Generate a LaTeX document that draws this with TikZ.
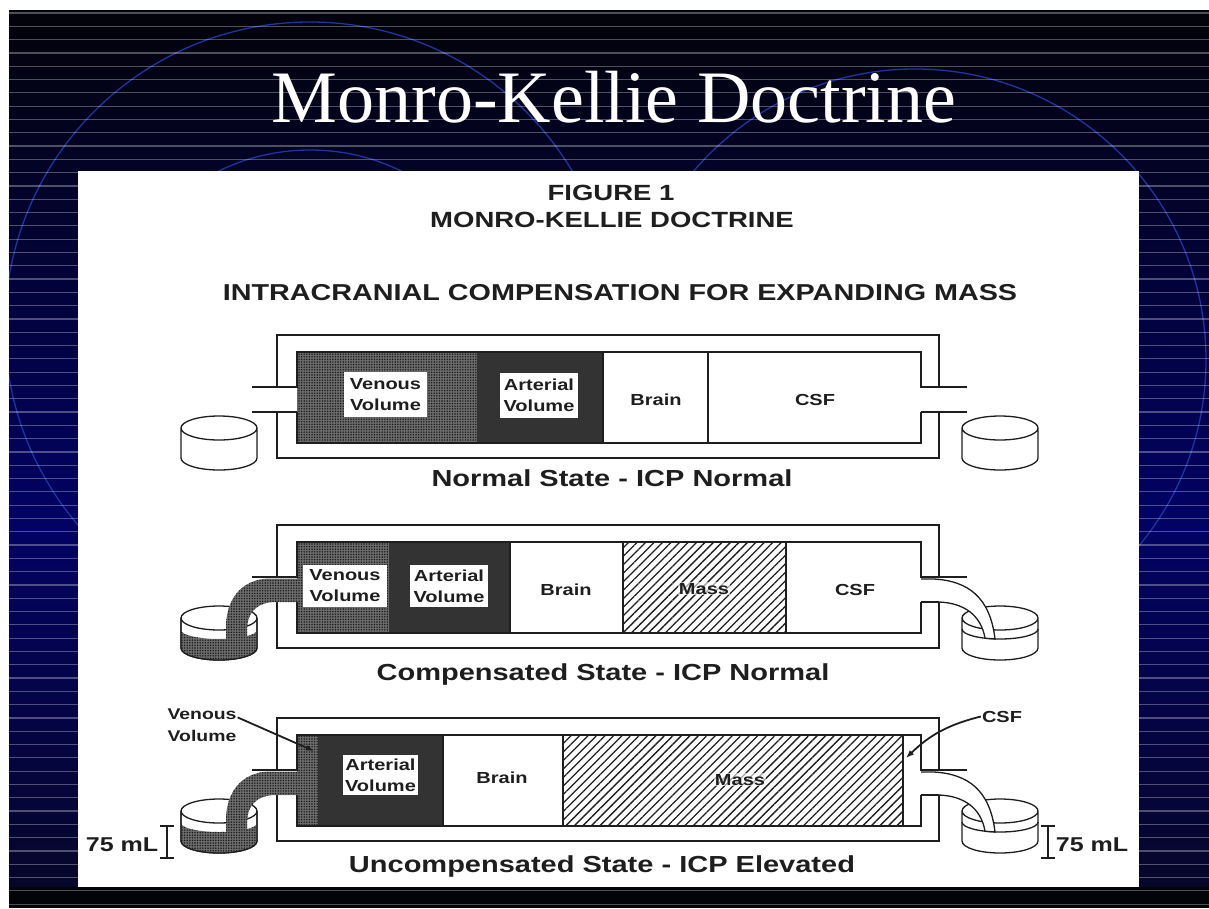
\documentclass[tikz,border=0pt]{standalone}
\usepackage{fontspec}
\setmainfont{Liberation Serif}
\newfontfamily\figfont[FakeStretch=1.25]{Liberation Sans}
\usetikzlibrary{patterns.meta,arrows.meta}

\definecolor{slidetop}{RGB}{3,3,10}
\definecolor{slidenavy}{RGB}{2,2,100}
\definecolor{slidedeep}{RGB}{6,6,42}
\definecolor{ringblue}{RGB}{30,52,160}
\definecolor{inkgray}{RGB}{30,30,30}

\begin{document}
\begin{tikzpicture}[x=1pt, y=-1pt,
  stripe/.style={white, opacity=0.3, line width=1.2pt},
  ring/.style={ringblue, line width=1.3pt},
  wall/.style={inkgray, line width=1.4pt},
  vessel/.style={inkgray, line width=1.3pt},
  venous/.style={pattern={Dots[distance=2.6pt, radius=0.8pt]}, pattern color=black!90,
    preaction={fill=black!58}},
  arterial/.style={fill=black!80},
  mass/.style={pattern={Lines[angle=45, distance=6pt, line width=1.3pt]}, pattern color=inkgray},
  lbl/.style={font=\figfont\bfseries\fontsize{16}{21}\selectfont, text=inkgray, inner sep=1pt},
  lblbox/.style={lbl, fill=white, align=center, inner sep=0pt},
  head/.style={font=\figfont\bfseries\fontsize{22}{26}\selectfont, text=inkgray, anchor=base},
  state/.style={font=\figfont\bfseries\fontsize{23.2}{28}\selectfont, text=inkgray, anchor=base},
  pointer/.style={inkgray, line width=1.8pt, -{Latex[length=8pt, width=6pt]}},
  bracket/.style={inkgray, line width=1.2pt},
]
\useasboundingbox (0,0) rectangle (1209,908);

% slide background
\fill[white] (0,0) rectangle (1209,908);
\fill[top color=slidetop, bottom color=slidenavy] (9,10) rectangle (1209,520);
\fill[top color=slidenavy, bottom color=slidedeep] (9,519) rectangle (1209,887);
\fill[slidetop] (9,887) rectangle (1209,908);
\begin{scope}
  \clip (9,10) rectangle (1209,908);
  \draw[ring] (310,327) circle[radius=305] (310,358) circle[radius=208] (310,415) circle[radius=130];
  \draw[ring] (915,360) circle[radius=291] (915,390) circle[radius=197] (915,415) circle[radius=130];
  \foreach \y in {13,26.3,...,905} \draw[stripe] (9,\y) -- (1209,\y);
\end{scope}
\node[anchor=base, text=white, font=\fontsize{74}{80}\selectfont] (title) at (614,122) {Monro-Kellie Doctrine};

% figure panel
\fill[white] (78,171) rectangle (1139,887);
\node[head] (fig) at (611,200) {FIGURE 1};
\node[head] (doc) at (612,227) {MONRO-KELLIE DOCTRINE};
\node[head, font=\figfont\bfseries\fontsize{23}{26}\selectfont] (intra) at (620,300) {INTRACRANIAL COMPENSATION FOR EXPANDING MASS};

% normal state
\begin{scope}[shift={(0,335)}]
  \fill[venous] (297,17) rectangle (477,108);
  \fill[arterial] (477,17) rectangle (603,108);
  \draw[wall] (603,17) -- (603,108) (708,17) -- (708,108);
  \draw[wall] (252,77) -- (297,77) (921,77) -- (967,77);
\end{scope}
% compensated state
\begin{scope}[shift={(0,525)}]
  \fill[venous] (297,17) rectangle (389,108);
  \fill[arterial] (389,17) rectangle (510,108);
  \fill[mass] (623,17) rectangle (786,108);
  \draw[wall] (510,17) -- (510,108) (623,17) -- (623,108) (786,17) -- (786,108);
\end{scope}
% uncompensated state
\begin{scope}[shift={(0,718)}]
  \fill[venous] (297,17) rectangle (318,108);
  \fill[arterial] (318,17) rectangle (443,108);
  \fill[mass] (563,17) rectangle (903,108);
  \draw[wall] (443,17) -- (443,108) (563,17) -- (563,108) (903,17) -- (903,108);
\end{scope}

% skull, chamber and reservoirs of each row
\foreach \T in {335,525,718}{
  \begin{scope}[shift={(0,\T)}]
    \draw[wall] (277,52) |- (939,0) -- (939,52) (939,77) |- (277,123) -- (277,77);
    \draw[wall] (252,52) -| (297,17) -| (921,52) -- (967,52);
    \draw[wall] (297,77) |- (921,108) -- (921,77);
    \foreach \cx in {219,1000}
      \filldraw[vessel, fill=white] (\cx-38,93) -- (\cx-38,123)
        arc[start angle=180, end angle=0, x radius=38, y radius=12] -- (\cx+38,93)
        arc[start angle=0, end angle=-180, x radius=38, y radius=12] -- cycle
        (\cx,93) ellipse[x radius=38, y radius=12];
  \end{scope}
}

% outflow of venous blood and CSF
\foreach \T in {525,718}{
  \begin{scope}[shift={(0,\T)}]
    \fill[venous] (181,105) -- (181,123) arc[start angle=180, end angle=0, x radius=38, y radius=12]
      -- (257,105) arc[start angle=0, end angle=180, x radius=38, y radius=9] -- cycle;
    \draw[vessel] (181,93) -- (181,123) arc[start angle=180, end angle=0, x radius=38, y radius=12] -- (257,93);
    \fill[venous] (297,53.5) -- (268,53.5) .. controls (241,55) and (227,74) .. (226,100) -- (226,120)
      -- (247,120) -- (247,103) .. controls (248,86) and (258,77) .. (276,77) -- (297,77) -- cycle;
    \draw[vessel] (962,104) arc[start angle=180, end angle=0, x radius=38, y radius=10];
    \filldraw[vessel, fill=white] (921,54) -- (934,54) .. controls (968,56) and (990,72) .. (995,113.9)
      -- (985,113.2) .. controls (981,90) and (964,78) .. (939,77);
    \draw[wall] (921,77) -- (939,77);
  \end{scope}
}

% labels
\node[lblbox, minimum width=83, minimum height=45] (ven1) at (385.5,394.5) {Venous\\Volume};
\node[lblbox, minimum width=78, minimum height=45] (art1) at (539,395) {Arterial\\Volume};
\node[lbl, anchor=base] (brain1) at (656,405) {Brain};
\node[lbl, anchor=base] (csf1) at (815,405) {CSF};
\node[state] (cap1) at (612,486) {Normal State - ICP Normal};

\node[lblbox, minimum width=84, minimum height=42] (ven2) at (345,586) {Venous\\Volume};
\node[lblbox, minimum width=78, minimum height=42] (art2) at (449,586) {Arterial\\Volume};
\node[lbl, anchor=base] (brain2) at (566,595) {Brain};
\node[lbl, anchor=base, fill=white, fill opacity=0.6, text opacity=1] (mass2) at (704,594) {Mass};
\node[lbl, anchor=base] (csf2) at (855,595) {CSF};
\node[state] (cap2) at (603,680) {Compensated State - ICP Normal};

\node[lblbox, minimum width=75, minimum height=40] (art3) at (380.5,775) {Arterial\\Volume};
\node[lbl, anchor=base] (brain3) at (502,783) {Brain};
\node[lbl, anchor=base, fill=white, fill opacity=0.6, text opacity=1] (mass3) at (740,785) {Mass};
\node[state] (cap3) at (602,872) {Uncompensated State - ICP Elevated};

% callouts
\node[lbl, align=center, font=\figfont\bfseries\fontsize{15.5}{22}\selectfont] (vcall) at (202,725) {Venous\\Volume};
\coordinate (vtip) at (314,751);
\draw[pointer] (vcall.12) -- (vtip);
\node[lbl, anchor=base] (ccall) at (1002,722) {CSF};
\coordinate (ctip) at (906,758);
\draw[pointer] (ccall.west) to[bend right=15] (ctip);

\node[lbl, anchor=base, font=\figfont\bfseries\fontsize{20}{24}\selectfont] (vol1) at (122,851) {75 mL};
\draw[bracket] (160,826) -- (174,826) (167,826) -- (167,858) (160,858) -- (174,858);
\node[lbl, anchor=base, font=\figfont\bfseries\fontsize{20}{24}\selectfont] (vol2) at (1092,851) {75 mL};
\draw[bracket] (1041,826) -- (1055,826) (1048,826) -- (1048,858) (1041,858) -- (1055,858);
\end{tikzpicture}
\end{document}
